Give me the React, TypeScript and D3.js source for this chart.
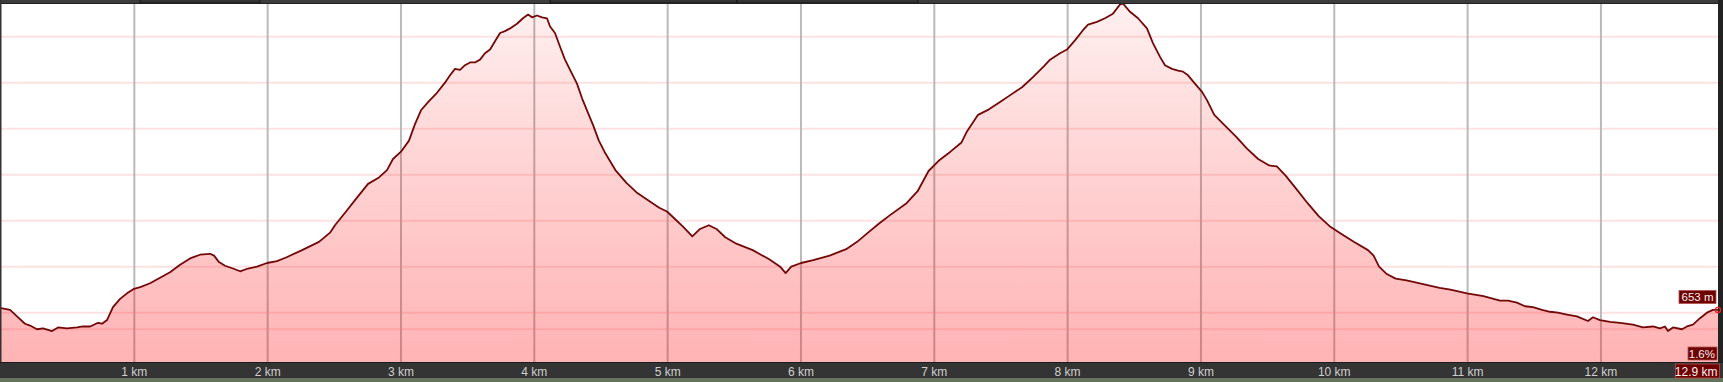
import React from 'react';
import * as d3 from 'd3';

const distanceKm = [
  0, 0.068, 0.12, 0.18, 0.218, 0.27, 0.315, 0.383, 0.428, 0.495, 0.57, 0.615, 0.668, 0.728, 0.758, 0.795,
  0.84, 0.893, 0.945, 0.998, 1.05, 1.118, 1.193, 1.268, 1.343, 1.418, 1.493, 1.568, 1.598, 1.635, 1.68,
  1.74, 1.793, 1.853, 1.92, 1.995, 2.07, 2.138, 2.258, 2.385, 2.468, 2.505, 2.588, 2.67, 2.753, 2.835,
  2.895, 2.94, 3.0, 3.06, 3.105, 3.15, 3.21, 3.27, 3.33, 3.368, 3.405, 3.443, 3.48, 3.518, 3.555, 3.593,
  3.63, 3.668, 3.705, 3.743, 3.78, 3.818, 3.87, 3.915, 3.953, 3.983, 4.02, 4.058, 4.095, 4.118, 4.155,
  4.193, 4.23, 4.268, 4.32, 4.358, 4.443, 4.484, 4.526, 4.608, 4.691, 4.773, 4.856, 4.937, 4.995, 5.061,
  5.119, 5.185, 5.243, 5.309, 5.366, 5.432, 5.515, 5.638, 5.762, 5.844, 5.885, 5.927, 6.001, 6.092,
  6.215, 6.339, 6.421, 6.503, 6.586, 6.668, 6.792, 6.875, 6.957, 7.04, 7.121, 7.204, 7.245, 7.328, 7.41,
  7.493, 7.575, 7.658, 7.74, 7.823, 7.868, 7.943, 7.995, 8.055, 8.115, 8.153, 8.22, 8.28, 8.34, 8.393,
  8.415, 8.468, 8.528, 8.595, 8.64, 8.693, 8.73, 8.783, 8.828, 8.865, 8.903, 8.955, 9.008, 9.045, 9.1,
  9.182, 9.265, 9.347, 9.429, 9.512, 9.569, 9.635, 9.718, 9.8, 9.883, 9.965, 10.048, 10.146, 10.253,
  10.295, 10.336, 10.394, 10.46, 10.542, 10.666, 10.79, 10.871, 10.995, 11.119, 11.243, 11.303, 11.37,
  11.43, 11.49, 11.558, 11.618, 11.678, 11.745, 11.82, 11.903, 11.94, 11.993, 12.068, 12.143, 12.24,
  12.315, 12.39, 12.443, 12.48, 12.503, 12.54, 12.608, 12.645, 12.69, 12.743, 12.795, 12.84, 12.878,
];

const elevationM = [
  655, 653, 646, 638, 636, 632, 633, 630, 634, 633, 634, 635, 635, 639, 638, 642,
  656, 665, 671, 676, 678, 682, 688, 694, 702, 709, 713, 714, 712, 705, 701,
  698, 695, 698, 700, 704, 706, 710, 718, 727, 737, 745, 760, 775, 790, 797,
  805, 817, 825, 837, 855, 870, 880, 889, 900, 908, 915, 914, 919, 922, 922, 925,
  932, 936, 945, 954, 956, 959, 964, 970, 974, 971, 973, 971, 970, 961, 954,
  939, 925, 914, 899, 883, 853, 837, 825, 805, 791, 780, 772, 764, 760, 751,
  743, 733, 741, 745, 741, 732, 725, 718, 708, 700, 693, 700, 704, 707,
  712, 719, 727, 737, 747, 756, 769, 782, 804, 816, 825, 835, 847, 865, 871,
  879, 887, 895, 906, 918, 925, 932, 936, 946, 957, 963, 966, 970, 975, 985,
  986, 977, 970, 959, 943, 928, 919, 915, 913, 912, 908, 899, 890, 881, 865,
  853, 841, 828, 817, 810, 809, 799, 784, 769, 755, 744, 736, 727, 718,
  712, 700, 692, 687, 685, 681, 677, 675, 671, 668, 663, 663, 661,
  657, 656, 653, 651, 650, 648, 646, 641, 645, 642, 640, 639, 637,
  634, 635, 633, 635, 630, 634, 632, 635, 637, 644, 650, 653, 653,
];

const kmTicks = [1, 2, 3, 4, 5, 6, 7, 8, 9, 10, 11, 12];
const tickLabels = kmTicks.map((k) => `${k} km`);
const gridElevations = [650, 700, 750, 800, 850, 900, 950];
const minElevationLine = 632;
const currentElevationLabel = '653 m';
const gradeLabel = '1.6%';
const totalDistanceLabel = '12.9 km';

const W = 1723;
const H = 382;
const PL = 1;
const PR = 1718;
const PT = 4;
const PB = 362;
const FONT = "'Liberation Sans', Arial, sans-serif";

export default function App() {
  const x = d3.scaleLinear().domain([0, distanceKm[distanceKm.length - 1]]).range([PL, PR]);
  const y = d3.scaleLinear().domain([596.4, 985.5]).range([PB, PT]);
  const pts: [number, number][] = distanceKm.map((d, i) => [d, elevationM[i]]);
  const area = d3.area<[number, number]>().x((d) => x(d[0])).y0(PB).y1((d) => y(d[1]));
  const line = d3.line<[number, number]>().x((d) => x(d[0])).y((d) => y(d[1]));
  const last = pts[pts.length - 1];

  return (
    <svg width={W} height={H} style={{ position: 'absolute', left: 0, top: 0, display: 'block' }} fontFamily={FONT}>
      <defs>
        <linearGradient id="fillGrad" gradientUnits="userSpaceOnUse" x1="0" y1={PT} x2="0" y2={PB}>
          <stop offset="0" stopColor="rgb(255,0,0)" stopOpacity={0.06} />
          <stop offset="1" stopColor="rgb(255,10,15)" stopOpacity={0.31} />
        </linearGradient>
        <clipPath id="plotClip">
          <rect x={PL} y={PT} width={PR - PL} height={PB - PT} />
        </clipPath>
      </defs>
      <rect x={0} y={0} width={W} height={H} fill="#ffffff" />
      <g clipPath="url(#plotClip)">
        {gridElevations.map((e) => (
          <line key={'h' + e} x1={PL} x2={PR} y1={y(e)} y2={y(e)} stroke="#fce2e2" strokeWidth={2} />
        ))}
        <line x1={PL} x2={PR} y1={y(minElevationLine)} y2={y(minElevationLine)} stroke="#fce2e2" strokeWidth={2} />
        {kmTicks.map((k) => (
          <line key={'v' + k} x1={x(k)} x2={x(k)} y1={PT} y2={PB} stroke="#bababa" strokeWidth={2} />
        ))}
        <path d={area(pts) || ''} fill="url(#fillGrad)" />
        <path d={line(pts) || ''} fill="none" stroke="#730808" strokeWidth={1.8} strokeLinejoin="round" />
      </g>
      {/* top bar */}
      <rect x={0} y={0} width={W} height={PT} fill="#3c3c3c" />
      <rect x={140} y={-1} width={120} height={PT} fill="#333" stroke="#151515" strokeWidth={1} />
      <rect x={550} y={-1} width={187} height={PT} fill="#333" stroke="#151515" strokeWidth={1} />
      <rect x={737} y={-1} width={181} height={PT} fill="#333" stroke="#151515" strokeWidth={1} />
      <line x1={0} x2={W} y1={PT - 0.5} y2={PT - 0.5} stroke="#222" strokeWidth={1} />
      {/* side borders */}
      <rect x={0} y={0} width={1.5} height={PB} fill="#333" />
      <rect x={PR} y={0} width={W - PR} height={PB} fill="#222" />
      {/* bottom axis bar */}
      <rect x={0} y={PB} width={W} height={16} fill="#343434" />
      <line x1={0} x2={W} y1={PB + 0.5} y2={PB + 0.5} stroke="#1c1c1c" strokeWidth={1} />
      <rect x={0} y={378} width={W} height={4} fill="#66735c" />
      {kmTicks.map((k, i) => (
        <text key={'t' + k} x={x(k)} y={375.5} textAnchor="middle" fontSize={12} fill="#cfcfcf">
          {tickLabels[i]}
        </text>
      ))}
      {/* end marker */}
      <circle cx={x(last[0])} cy={y(last[1])} r={2.6} fill="none" stroke="#e52222" strokeWidth={1.3} />
      {/* value boxes */}
      <rect x={1679} y={290.5} width={37} height={13} fill="#6e0000" stroke="#b05050" strokeWidth={0.8} />
      <text x={1713.5} y={301.3} textAnchor="end" fontSize={11.5} fill="#f2f2f2">{currentElevationLabel}</text>
      <rect x={1688} y={347} width={29} height={13} fill="#6e0000" stroke="#b05050" strokeWidth={0.8} />
      <text x={1715} y={357.8} textAnchor="end" fontSize={11.5} fill="#f2f2f2">{gradeLabel}</text>
      <rect x={1675.5} y={364} width={44} height={14} fill="#6e0000" stroke="#b05050" strokeWidth={0.8} />
      <text x={1717.5} y={375.5} textAnchor="end" fontSize={12} fill="#f2f2f2">{totalDistanceLabel}</text>
    </svg>
  );
}
